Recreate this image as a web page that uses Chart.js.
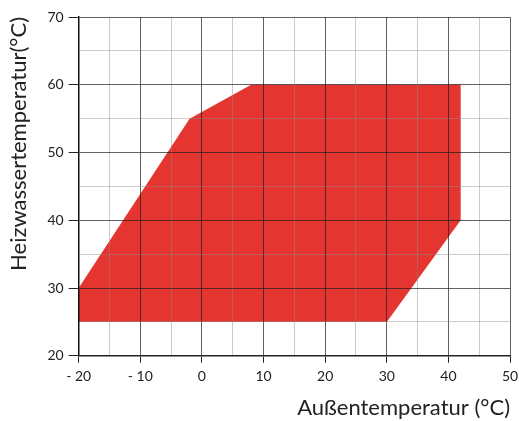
<!DOCTYPE html>
<html>
<head>
<meta charset="utf-8">
<script src="https://cdn.jsdelivr.net/npm/chart.js@4"></script>
<style>
  html, body { margin: 0; padding: 0; background: #fff; }
  #wrap { width: 519px; height: 421px; }
</style>
</head>
<body>
<div id="wrap"><canvas id="chart" width="519" height="421"></canvas></div>
<script>
// Einsatzbereich: Außentemperatur gegen Heizwassertemperatur
const outsideTemp = [-20, -20, -2, 8, 42, 42, 30, -20];
const waterTemp = [25, 30, 55, 60, 60, 40, 25, 25];
const xRange = [-20, 50];
const yRange = [20, 70];

function fmtX(v) {
  if (v % 10 !== 0) return '';
  return v < 0 ? '- ' + Math.abs(v) : String(v);
}

const points = outsideTemp.map((x, i) => ({ x, y: waterTemp[i] }));

// Hauptlinien alle 10, Nebenlinien alle 5; Gitter liegt über der Fläche
const gridColor = (ctx) => (ctx.tick && ctx.tick.value % 10 === 0 ? 'rgba(30,30,30,0.7)' : 'rgba(140,140,140,0.45)');
const tickColor = (ctx) => (ctx.tick && ctx.tick.value % 10 === 0 ? '#222' : 'rgba(0,0,0,0)');
const font = { family: 'Lato', size: 14 };
const titleFont = { family: 'Lato', size: 22 };

new Chart(document.getElementById('chart'), {
  type: 'scatter',
  data: {
    datasets: [{
      data: points,
      showLine: true,
      fill: 'shape',
      backgroundColor: '#e53530',
      borderWidth: 0,
      pointRadius: 0,
    }],
  },
  options: {
    responsive: false,
    animation: false,
    layout: { padding: { top: 17, right: 9, left: 6, bottom: 0 } },
    plugins: { legend: { display: false }, tooltip: { enabled: false } },
    scales: {
      x: {
        type: 'linear',
        min: xRange[0],
        max: xRange[1],
        afterFit: (s) => { s.paddingRight = 0; },
        ticks: { stepSize: 5, autoSkip: false, maxRotation: 0, color: '#222', font, padding: 5, callback: fmtX },
        grid: { z: 1, color: gridColor, tickColor, tickLength: 7, lineWidth: 1 },
        border: { z: 2, color: '#222', width: 1.5 },
        title: { display: true, text: 'Außentemperatur (°C)', align: 'end', color: '#222', font: titleFont, padding: { top: 5, bottom: 0 } },
      },
      y: {
        min: yRange[0],
        max: yRange[1],
        ticks: { stepSize: 5, autoSkip: false, color: '#222', font, padding: 5, callback: (v) => (v % 10 === 0 ? String(v) : '') },
        grid: { z: 1, color: gridColor, tickColor, tickLength: 10, lineWidth: 1 },
        border: { z: 2, color: '#111', width: 1.5 },
        title: { display: true, text: 'Heizwassertemperatur(°C)', align: 'end', color: '#222', font: titleFont, padding: { top: 0, bottom: 10 } },
      },
    },
  },
});
</script>
</body>
</html>
